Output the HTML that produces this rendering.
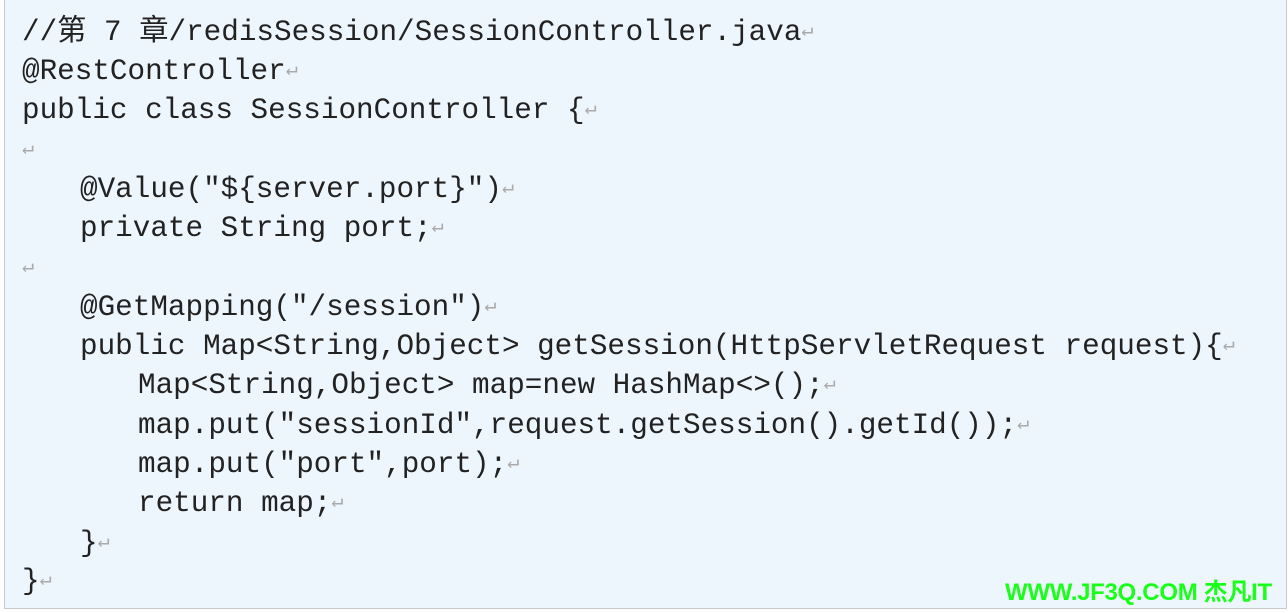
<!DOCTYPE html>
<html><head><meta charset="utf-8"><style>
html,body{margin:0;padding:0;width:1288px;height:613px;background:#fff;overflow:hidden}
.box{position:absolute;left:4px;top:-2px;width:1281px;height:610px;background:#eef6fd;border:1px solid #c8c8c8;border-top:none}
.l{position:absolute;left:22px;height:39px;line-height:39px;white-space:pre;font-family:"Liberation Mono","Noto Sans CJK SC",monospace;font-size:29.3px;color:#222}
.i1{left:80px}.i2{left:138px}
.r{color:#aaa;font-size:20px;position:relative;top:-4px;line-height:0}
.wm{position:absolute;left:1005px;top:580px;height:26px;line-height:26px;font-family:"Liberation Sans","Noto Sans CJK SC",sans-serif;font-weight:bold;font-size:24px;color:#1aff1a;white-space:nowrap;letter-spacing:-0.3px}
</style></head><body>
<div class="box"></div>
<div class="l" style="top:13px">//第 7 章/redisSession/SessionController.java<span class="r">↵</span></div>
<div class="l" style="top:52px">@RestController<span class="r">↵</span></div>
<div class="l" style="top:91px">public class SessionController {<span class="r">↵</span></div>
<div class="l" style="top:131px"><span class="r">↵</span></div>
<div class="l i1" style="top:170px">@Value("${server.port}")<span class="r">↵</span></div>
<div class="l i1" style="top:209px">private String port;<span class="r">↵</span></div>
<div class="l" style="top:249px"><span class="r">↵</span></div>
<div class="l i1" style="top:288px">@GetMapping("/session")<span class="r">↵</span></div>
<div class="l i1" style="top:327px">public Map&lt;String,Object&gt; getSession(HttpServletRequest request){<span class="r">↵</span></div>
<div class="l i2" style="top:366px">Map&lt;String,Object&gt; map=new HashMap&lt;&gt;();<span class="r">↵</span></div>
<div class="l i2" style="top:406px">map.put("sessionId",request.getSession().getId());<span class="r">↵</span></div>
<div class="l i2" style="top:445px">map.put("port",port);<span class="r">↵</span></div>
<div class="l i2" style="top:484px">return map;<span class="r">↵</span></div>
<div class="l i1" style="top:524px">}<span class="r">↵</span></div>
<div class="l" style="top:562px">}<span class="r">↵</span></div>
<div class="wm">WWW.JF3Q.COM 杰凡IT</div>
</body></html>
